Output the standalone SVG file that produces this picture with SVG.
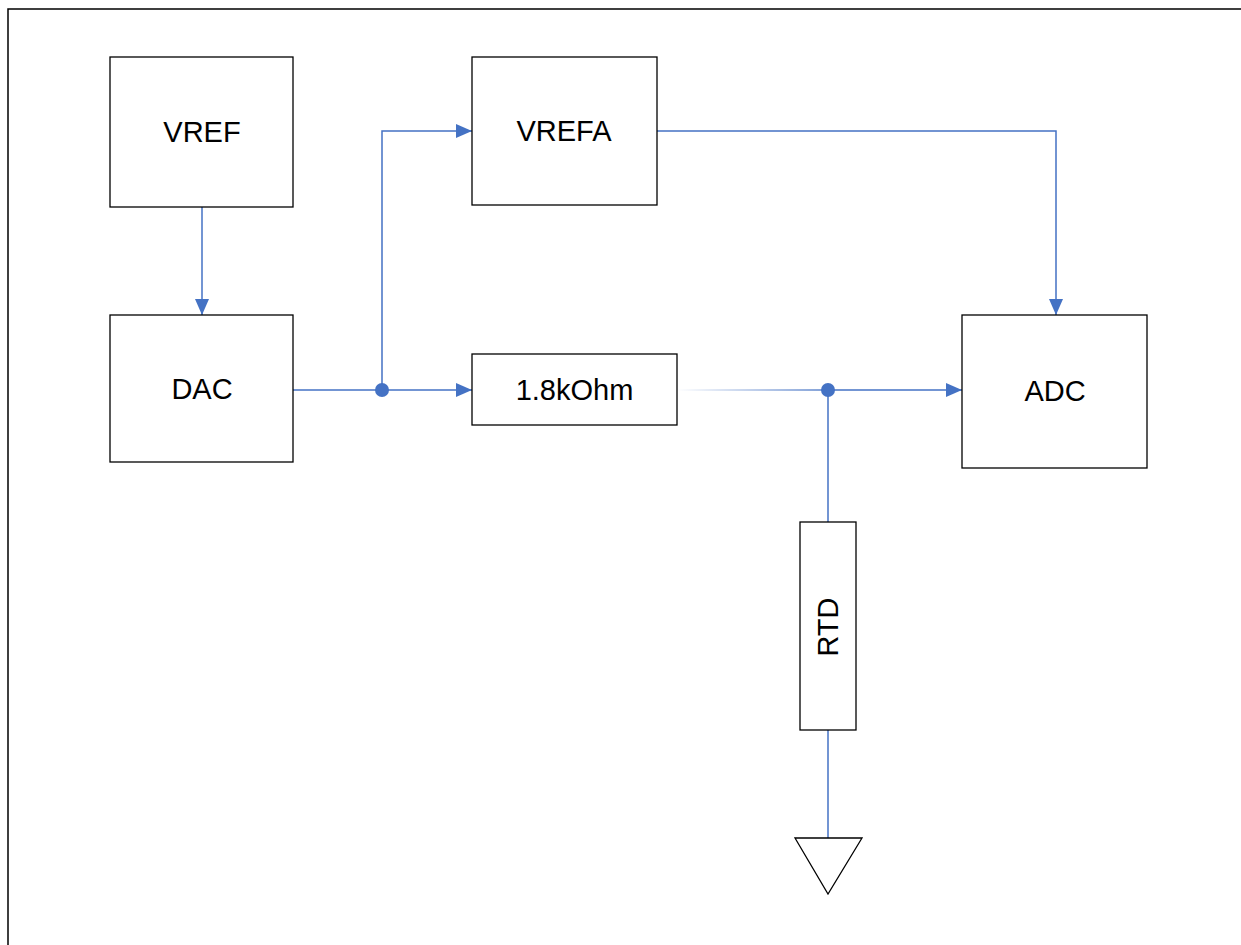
<svg xmlns="http://www.w3.org/2000/svg" width="1241" height="945" viewBox="0 0 1241 945">
  <style>
    .box { fill: #ffffff; stroke: #000000; stroke-width: 1.3; }
    .wire { fill: none; stroke: #4472c4; stroke-width: 1.5; }
    .lbl { font-family: "Liberation Sans", Arial, sans-serif; font-size: 29px; fill: #000000; text-anchor: middle; dominant-baseline: central; }
    .dot { fill: #4472c4; }
  </style>
  <defs>
    <marker id="arrow" viewBox="0 0 16 14" refX="16" refY="7" markerWidth="16" markerHeight="14" markerUnits="userSpaceOnUse" orient="auto">
      <path d="M0,0 L16,7 L0,14 Z" fill="#4472c4"/>
    </marker>
    <linearGradient id="fade" gradientUnits="userSpaceOnUse" x1="677" y1="0" x2="828" y2="0">
      <stop offset="0" stop-color="#4472c4" stop-opacity="0"/>
      <stop offset="1" stop-color="#4472c4" stop-opacity="0.9"/>
    </linearGradient>
  </defs>

  <rect width="1241" height="945" fill="#ffffff"/>

  <!-- page frame -->
  <path d="M8,945 L8,9 L1241,9" fill="none" stroke="#000000" stroke-width="1.5"/>

  <g id="connectors">
    <line class="wire" x1="202" y1="207" x2="202" y2="315" marker-end="url(#arrow)"/>
    <line class="wire" x1="293" y1="390" x2="472" y2="390" marker-end="url(#arrow)"/>
    <polyline class="wire" points="382,390 382,131 472,131" marker-end="url(#arrow)"/>
    <polyline class="wire" points="657,131 1056,131 1056,315" marker-end="url(#arrow)"/>
    <line x1="677" y1="390" x2="828" y2="390" stroke="url(#fade)" stroke-width="1.5"/>
    <line class="wire" x1="828" y1="390" x2="962" y2="390" marker-end="url(#arrow)"/>
    <line class="wire" x1="828" y1="390" x2="828" y2="522"/>
    <line class="wire" x1="828" y1="730" x2="828" y2="838"/>
    <circle class="dot" cx="382" cy="390" r="7"/>
    <circle class="dot" cx="828" cy="390" r="7"/>
  </g>

  <g id="vref">
    <rect class="box" x="110" y="57" width="183" height="150"/>
    <text class="lbl" x="202" y="132">VREF</text>
  </g>

  <g id="dac">
    <rect class="box" x="110" y="315" width="183" height="147"/>
    <text class="lbl" x="202" y="389">DAC</text>
  </g>

  <g id="vrefa">
    <rect class="box" x="472" y="57" width="185" height="148"/>
    <text class="lbl" x="564" y="131">VREFA</text>
  </g>

  <g id="r1">
    <rect class="box" x="472" y="354" width="205" height="71"/>
    <text class="lbl" x="574.5" y="390">1.8kOhm</text>
  </g>

  <g id="adc">
    <rect class="box" x="962" y="315" width="185" height="153"/>
    <text class="lbl" x="1055" y="391">ADC</text>
  </g>

  <g id="rtd">
    <rect class="box" x="800" y="522" width="56" height="208"/>
    <text class="lbl" x="828" y="627" transform="rotate(-90 828 627)">RTD</text>
  </g>

  <g id="ground">
    <polygon points="795,838 862,838 828,894" fill="#ffffff" stroke="#000000" stroke-width="1.3"/>
  </g>
</svg>
